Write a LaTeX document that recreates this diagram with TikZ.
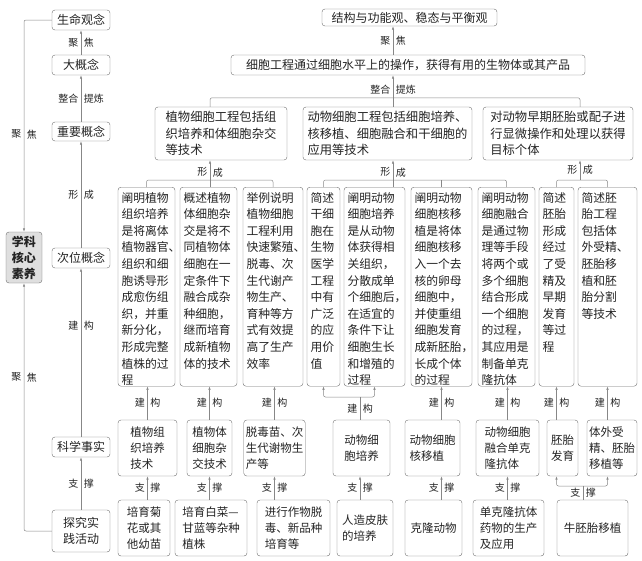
\documentclass[tikz,border=0pt]{standalone}
\usepackage{fontspec}
\newfontfamily\cjk{Noto Sans CJK SC}
\usetikzlibrary{arrows.meta}

\definecolor{lngray}{RGB}{135,135,135}
\definecolor{bdgray}{RGB}{110,110,110}
\definecolor{txgray}{RGB}{35,35,35}

\tikzset{
  frame/.style={draw=bdgray,rounded corners=3pt,inner sep=2pt,text=txgray,
    font=\cjk\fontsize{12}{16}\selectfont},
  box/.style={frame,align=left},
  midbox/.style={box,font=\cjk\fontsize{12.3}{16.5}\selectfont},
  colbox/.style={frame,anchor=north,minimum height=199pt},
  coltext/.style={align=left,anchor=north west,inner xsep=3.5pt,inner ysep=5pt,
    text=txgray,font=\cjk\fontsize{11.8}{16.6}\selectfont},
  smallbox/.style={box,minimum height=56pt,font=\cjk\fontsize{11.5}{16}\selectfont},
  ln/.style={draw=lngray,line width=0.5pt,rounded corners=2pt},
  arr/.style={ln,-{Latex[length=3.5pt,width=2.4pt]}},
  lbl/.style={text=txgray,font=\cjk\fontsize{10}{10}\selectfont,inner sep=2.5pt},
}

\begin{document}
\begin{tikzpicture}[x=1pt,y=-1pt]
  \useasboundingbox (0,0) rectangle (642,560);

  % left column
  \node[box,minimum width=58pt,minimum height=20pt] (sm) at (81,20) {生命观念};
  \node[box,minimum width=58pt,minimum height=20pt] (rgn) at (81,65) {大概念};
  \node[box,minimum width=58pt,minimum height=19pt] (zy) at (81,131.5) {重要概念};
  \node[box,minimum width=58pt,minimum height=20pt] (cw) at (81,258) {次位概念};
  \node[box,minimum width=58pt,minimum height=20pt] (kx) at (81,447) {科学事实};
  \node[box,minimum width=58pt,minimum height=42pt,align=center] (tj) at (81,531) {探究实\\践活动};
  \node[box,fill=gray!25,minimum width=36pt,minimum height=51pt,align=center,
    font=\cjk\bfseries\fontsize{12}{16}\selectfont] (hx) at (24,257.5) {学科\\核心\\素养};

  \draw[arr] (rgn) -- (sm) node[lbl,midway,left]{聚} node[lbl,midway,right]{焦};
  \draw[arr] (zy) -- (rgn) node[lbl,midway,left]{整合} node[lbl,midway,right]{提炼};
  \draw[arr] (cw) -- (zy) node[lbl,midway,left]{形} node[lbl,midway,right]{成};
  \draw[arr] (kx) -- (cw) node[lbl,pos=0.66,left]{建} node[lbl,pos=0.66,right]{构};
  \draw[arr] (tj) -- (kx) node[lbl,midway,left]{支} node[lbl,midway,right]{撑};
  \draw[arr] (sm.west) -| (hx.north) node[lbl,pos=0.77,left]{聚} node[lbl,pos=0.77,right]{焦};
  \draw[arr] (tj.west) -| (hx.south) node[lbl,pos=0.81,left]{聚} node[lbl,pos=0.81,right]{焦};

  % top of the map
  \node[box,minimum width=175pt,minimum height=17pt] (gn) at (409.5,17.5) {结构与功能观、稳态与平衡观};
  \node[box,minimum width=354pt,minimum height=20pt] (xb) at (408,65) {细胞工程通过细胞水平上的操作，获得有用的生物体或其产品};
  \node[midbox,minimum width=132pt,minimum height=53pt] (zw) at (221,133.5) {植物细胞工程包括组\\织培养和体细胞杂交\\等技术};
  \node[midbox,minimum width=169pt,minimum height=53pt] (dw) at (387.5,133.5) {动物细胞工程包括细胞培养、\\核移植、细胞融合和干细胞的\\应用等技术};
  \node[midbox,minimum width=150pt,minimum height=53pt] (pt) at (558,133.5) {对动物早期胚胎或配子进\\行显微操作和处理以获得\\目标个体};

  \coordinate (fa) at (210,180);
  \coordinate (fb) at (393,180);
  \coordinate (fc) at (580,180);
  \draw[arr] (xb.north -| fb) -- (gn.south -| fb) node[lbl,midway,left]{聚} node[lbl,midway,right]{焦};
  \draw[arr] (dw.north -| fb) -- (xb.south -| fb) node[lbl,pos=0.55,left]{整合} node[lbl,pos=0.55,right]{提炼};
  \draw[ln] (zw.north -| fa) -- ++(0,-9) -| (pt.north -| fc);

  % core requirements
  \node[colbox,minimum width=57pt,label={[coltext]north west:{阐明植物\\组织培养\\是将离体\\植物器官、\\组织和细\\胞诱导形\\成愈伤组\\织，并重\\新分化，\\形成完整\\植株的过\\程}}] (p1) at (146.5,187) {};
  \node[colbox,minimum width=57pt,label={[coltext]north west:{概述植物\\体细胞杂\\交是将不\\同植物体\\细胞在一\\定条件下\\融合成杂\\种细胞，\\继而培育\\成新植物\\体的技术}}] (p2) at (208.5,187) {};
  \node[colbox,minimum width=60pt,label={[coltext]north west:{举例说明\\植物细胞\\工程利用\\快速繁殖、\\脱毒、次\\生代谢产\\物生产、\\育种等方\\式有效提\\高了生产\\效率}}] (p3) at (273,187) {};
  \node[colbox,minimum width=33pt,label={[coltext]north west:{简述\\干细\\胞在\\生物\\医学\\工程\\中有\\广泛\\的应\\用价\\值}}] (a2) at (323.5,187) {};
  \node[colbox,minimum width=61pt,label={[coltext]north west:{阐明动物\\细胞培养\\是从动物\\体获得相\\关组织，\\分散成单\\个细胞后，\\在适宜的\\条件下让\\细胞生长\\和增殖的\\过程}}] (a3) at (374.5,187) {};
  \node[colbox,minimum width=61pt,label={[coltext]north west:{阐明动物\\细胞核移\\植是将体\\细胞核移\\入一个去\\核的卵母\\细胞中，\\并使重组\\细胞发育\\成新胚胎，\\长成个体\\的过程}}] (a4) at (441.5,187) {};
  \node[colbox,minimum width=57pt,label={[coltext]north west:{阐明动物\\细胞融合\\是通过物\\理等手段\\将两个或\\多个细胞\\结合形成\\一个细胞\\的过程，\\其应用是\\制备单克\\隆抗体}}] (a5) at (506.5,187) {};
  \node[colbox,minimum width=35pt,label={[coltext]north west:{简述\\胚胎\\形成\\经过\\了受\\精及\\早期\\发育\\等过\\程}}] (e1) at (556.5,187) {};
  \node[colbox,minimum width=59pt,label={[coltext]north west:{简述胚\\胎工程\\包括体\\外受精、\\胚胎移\\植和胚\\胎分割\\等技术}}] (e2) at (607.5,187) {};

  \draw[ln] (p1.north) -- ++(0,-7) -| (p3.north);
  \draw[arr] (p2.north -| fa) -- (zw.south -| fa) node[lbl,pos=0.55,left]{形} node[lbl,pos=0.55,right]{成};
  \draw[ln] (a2.north) -- ++(0,-7) -| (a5.north);
  \draw[ln] (a4.north) -- ++(0,-7);
  \draw[arr] (a3.north -| fb) -- (dw.south -| fb) node[lbl,pos=0.55,left]{形} node[lbl,pos=0.55,right]{成};
  \draw[ln] (e1.north) -- ++(0,-7) -| (e2.north);
  \draw[arr] (fc) -- (pt.south -| fc) node[lbl,midway,left]{形} node[lbl,midway,right]{成};

  % techniques
  \node[smallbox,minimum width=59pt] (jz1) at (147.5,448) {植物组\\织培养\\技术};
  \node[smallbox,minimum width=45pt] (jz2) at (209.5,448) {植物体\\细胞杂\\交技术};
  \node[smallbox,minimum width=59pt] (jz3) at (274.5,448) {脱毒苗、次\\生代谢物生\\产等};
  \node[smallbox,minimum width=57pt] (jz4) at (361.5,448) {动物细\\胞培养};
  \node[smallbox,minimum width=55pt] (jz5) at (432.5,448) {动物细胞\\核移植};
  \node[smallbox,minimum width=63pt] (jz6) at (507.5,448) {动物细胞\\融合单克\\隆抗体};
  \node[smallbox,minimum width=31pt] (jz7) at (562.5,448) {胚胎\\发育};
  \node[smallbox,minimum width=50pt] (jz8) at (612,448) {体外受\\精、胚胎\\移植等};

  \coordinate (ga) at (360,397);
  \draw[arr] (jz1.north) -- (jz1.north |- p1.south) node[lbl,midway,left]{建} node[lbl,midway,right]{构};
  \draw[arr] (jz2.north) -- (jz2.north |- p2.south) node[lbl,midway,left]{建} node[lbl,midway,right]{构};
  \draw[arr] (jz3.north) -- (jz3.north |- p3.south) node[lbl,midway,left]{建} node[lbl,midway,right]{构};
  \draw[ln] (jz4.north -| ga) -- (ga) node[lbl,midway,left]{建} node[lbl,midway,right]{构};
  \draw[arr] (ga) -| (a2.south);
  \draw[arr] (ga) -| (a3.south);
  \draw[arr] (jz5.north -| a4.south) -- (a4.south) node[lbl,midway,left]{建} node[lbl,midway,right]{构};
  \draw[arr] (jz6.north) -- (jz6.north |- a5.south) node[lbl,midway,left]{建} node[lbl,midway,right]{构};
  \draw[arr] (jz7.north -| e1.south) -- (e1.south) node[lbl,midway,left]{建} node[lbl,midway,right]{构};
  \draw[arr] (jz8.north -| e2.south) -- (e2.south) node[lbl,midway,left]{建} node[lbl,midway,right]{构};

  % practice
  \node[smallbox,minimum width=52pt] (zc1) at (144,528) {培育菊\\花或其\\他幼苗};
  \node[smallbox,minimum width=72pt] (zc2) at (211,528) {培育白菜—\\甘蓝等杂种\\植株};
  \node[smallbox,minimum width=73pt] (zc3) at (293.5,528) {进行作物脱\\毒、新品种\\培育等};
  \node[smallbox,minimum width=56pt] (zc4) at (365,528) {人造皮肤\\的培养};
  \node[smallbox,minimum width=57pt] (zc5) at (433.5,528) {克隆动物};
  \node[smallbox,minimum width=71pt] (zc6) at (508.5,528) {单克隆抗体\\药物的生产\\及应用};
  \node[smallbox,minimum width=71pt] (zc7) at (592.5,528) {牛胚胎移植};

  \coordinate (gb) at (583,486);
  \draw[arr] (zc1.north -| jz1.north) -- (jz1.south) node[lbl,midway,left]{支} node[lbl,midway,right]{撑};
  \draw[arr] (zc2.north -| jz2.north) -- (jz2.south) node[lbl,midway,left]{支} node[lbl,midway,right]{撑};
  \draw[arr] (zc3.north -| jz3.north) -- (jz3.south) node[lbl,midway,left]{支} node[lbl,midway,right]{撑};
  \draw[arr] (zc4.north -| ga) -- (jz4.south -| ga) node[lbl,midway,left]{支} node[lbl,midway,right]{撑};
  \draw[arr] (zc5.north -| a4.south) -- (jz5.south -| a4.south) node[lbl,midway,left]{支} node[lbl,midway,right]{撑};
  \draw[arr] (zc6.north -| jz6.north) -- (jz6.south) node[lbl,midway,left]{支} node[lbl,midway,right]{撑};
  \draw[ln] (zc7.north -| gb) -- (gb) node[lbl,midway,left]{支} node[lbl,midway,right]{撑};
  \draw[arr] (gb) -| (jz7.south -| e1.south);
  \draw[arr] (gb) -| (jz8.south -| e2.south);
\end{tikzpicture}
\end{document}
